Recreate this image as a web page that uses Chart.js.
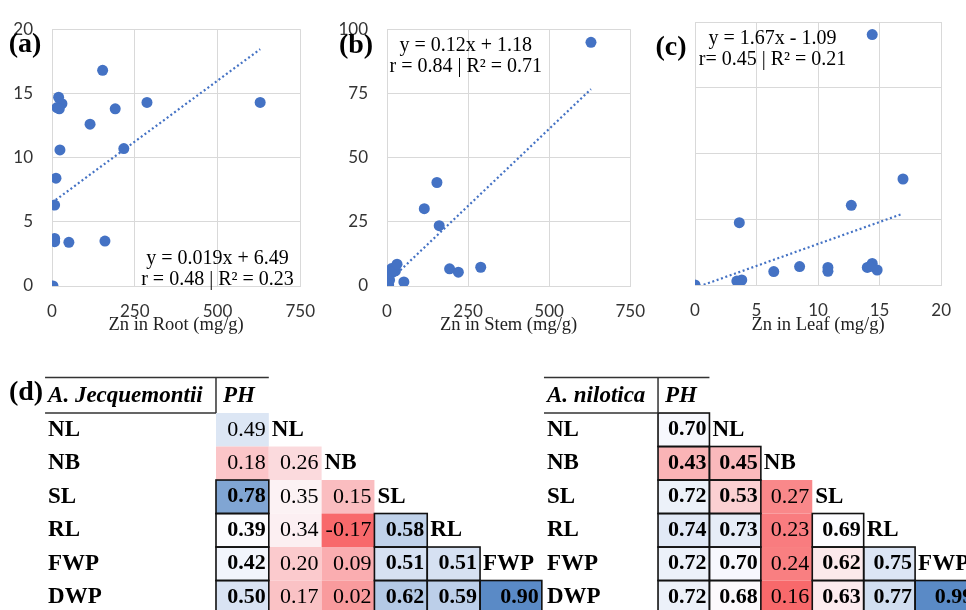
<!DOCTYPE html>
<html>
<head>
<meta charset="utf-8">
<script src="https://cdn.jsdelivr.net/npm/chart.js@4.4.0/dist/chart.umd.min.js"></script>
<style>
  html, body { margin: 0; padding: 0; background: #fff; }
  #page { position: relative; width: 966px; height: 610px; overflow: hidden; background: #fff; }
  canvas { position: absolute; }
</style>
</head>
<body>
<div id="page">
  <canvas id="rootChart" width="330" height="340" style="left:0;top:0"></canvas>
  <canvas id="stemChart" width="330" height="340" style="left:330px;top:0"></canvas>
  <canvas id="leafChart" width="321" height="340" style="left:645px;top:0"></canvas>
  <canvas id="jecqMatrix" width="545" height="240" style="left:0;top:370px"></canvas>
  <canvas id="niloMatrix" width="436" height="240" style="left:530px;top:370px"></canvas>
</div>
<script>
// (a) Zn in root vs Zn in leaf
const rootX = [3, 8, 8, 8, 12, 24, 20, 30, 15, 22, 51, 115, 153, 160, 191, 217, 287, 629];
const rootY = [0, 6.3, 3.7, 3.45, 8.4, 10.6, 14.7, 14.2, 13.9, 13.8, 3.4, 12.6, 16.8, 3.5, 13.8, 10.7, 14.3, 14.3];
// (b) Zn in stem
const stemX = [3, 5, 8, 10, 14, 20, 24, 26, 31, 52, 115, 154, 161, 193, 220, 289, 629];
const stemY = [0, 0.5, 2.3, 4.8, 6.8, 5.6, 6.6, 5.9, 8.5, 1.6, 30.1, 40.3, 23.5, 6.7, 5.4, 7.3, 94.9];
// (c) Zn in leaf
const leafX = [0, 3.4, 3.8, 3.6, 6.4, 8.5, 10.8, 10.8, 12.7, 14.0, 14.4, 14.8, 14.2, 14.4, 16.9];
const leafY = [0, 1.5, 1.9, 23.7, 5.1, 7.0, 6.7, 5.2, 30.3, 6.7, 8.2, 5.7, 7.0, 95.2, 40.3];

const rootTicks = [0, 250, 500, 750];
const stemTicks = [0, 250, 500, 750];
const leafTicks = [0, 5, 10, 15, 20];
const leafYTicks = [0, 5, 10, 15, 20];
const shootYTicks = [0, 25, 50, 75, 100];

// linear fits: slope, intercept, x range
const fitSlope = [0.019, 0.12, 1.67];
const fitIntercept = [6.49, 1.18, -1.09];
const fitRange = [[0, 629], [0, 629], [0, 16.9]];
const eqText = [
  ['y = 0.019x + 6.49', 'r = 0.48 | R\u00b2 = 0.23'],
  ['y = 0.12x + 1.18', 'r = 0.84 | R\u00b2 = 0.71'],
  ['y = 1.67x - 1.09', 'r= 0.45 | R\u00b2 = 0.21']
];

// (d) correlation matrices (lower triangle)
const traits = ['PH', 'NL', 'NB', 'SL', 'RL', 'FWP', 'DWP'];
const jecqR = [
  [0.49],
  [0.18, 0.26],
  [0.78, 0.35, 0.15],
  [0.39, 0.34, -0.17, 0.58],
  [0.42, 0.20, 0.09, 0.51, 0.51],
  [0.50, 0.17, 0.02, 0.62, 0.59, 0.90]
];
const jecqSig = [[0], [0, 0], [1, 0, 0], [1, 0, 0, 1], [1, 0, 0, 1, 1], [1, 0, 0, 1, 1, 1]];
const niloR = [
  [0.70],
  [0.43, 0.45],
  [0.72, 0.53, 0.27],
  [0.74, 0.73, 0.23, 0.69],
  [0.72, 0.70, 0.24, 0.62, 0.75],
  [0.72, 0.68, 0.16, 0.63, 0.77, 0.99]
];
const niloSig = [[1], [1, 1], [1, 1, 0], [1, 1, 0, 1], [1, 1, 0, 1, 1], [1, 1, 0, 1, 1, 1]];

const BLUE = '#4472C4';
const GRID = '#d9d9d9';
const SERIF = "'Liberation Serif', 'Times New Roman', serif";
const SANS = "Lato, 'Open Sans', sans-serif";

// panel tag and fit equation for a scatter panel
function panelText(tag, tagPos, lines, anchor) {
  return {
    id: 'panelText',
    afterDatasetsDraw(chart) {
      const { ctx, scales: { x, y } } = chart;
      ctx.save();
      ctx.fillStyle = '#000';
      ctx.textBaseline = 'middle';
      ctx.textAlign = 'center';
      ctx.font = `bold 28px ${SERIF}`;
      ctx.fillText(tag, tagPos[0], tagPos[1]);
      ctx.font = `20px ${SERIF}`;
      const cx = x.getPixelForValue(anchor[0]);
      const cy = y.getPixelForValue(anchor[1]);
      lines.forEach((t, i) => ctx.fillText(t, cx, cy + i * 21));
      ctx.restore();
    }
  };
}

function scatterPanel(id, o) {
  const pts = o.xs.map((v, i) => ({ x: v, y: o.ys[i] }));
  const [x0, x1] = o.range;
  const fit = [
    { x: x0, y: o.slope * x0 + o.intercept },
    { x: x1, y: o.slope * x1 + o.intercept }
  ];
  return new Chart(document.getElementById(id), {
    type: 'scatter',
    data: {
      datasets: [
        { type: 'line', data: fit, borderColor: BLUE, borderWidth: 2.2, borderDash: [2, 2.6],
          pointRadius: 0, fill: false, tension: 0 },
        { data: pts, backgroundColor: BLUE, borderWidth: 0, pointRadius: 5.5 }
      ]
    },
    options: {
      responsive: false,
      animation: false,
      devicePixelRatio: 1,
      layout: { padding: { left: 0, right: o.padRight, top: o.padTop, bottom: 0 } },
      plugins: { legend: { display: false }, tooltip: { enabled: false } },
      scales: {
        x: {
          type: 'linear',
          min: o.xTicks[0],
          max: o.xTicks[o.xTicks.length - 1],
          afterBuildTicks: s => { s.ticks = o.xTicks.map(v => ({ value: v })); },
          afterFit: s => { s.height = o.xAxisHeight; },
          grid: { color: GRID, drawTicks: false },
          border: { color: GRID },
          ticks: { padding: 15, maxRotation: 0, color: '#333', font: { family: SANS, size: 17 } },
          title: { display: true, text: o.title, color: '#222',
                   font: { family: SERIF, size: 18.5 }, padding: { top: 0, bottom: 4 } }
        },
        y: {
          type: 'linear',
          min: o.yTicks[0],
          max: o.yTicks[o.yTicks.length - 1],
          afterBuildTicks: s => { s.ticks = o.yTicks.map(v => ({ value: v })); },
          afterFit: s => { s.width = o.yAxisWidth; },
          grid: { color: GRID, drawTicks: false },
          border: { color: GRID },
          ticks: { display: o.showY, padding: 19, color: '#333', font: { family: SANS, size: 17 } }
        }
      }
    },
    plugins: [panelText(o.tag, o.tagPos, o.eq, o.eqAt)]
  });
}

scatterPanel('rootChart', {
  xs: rootX, ys: rootY, xTicks: rootTicks, yTicks: leafYTicks, showY: true,
  slope: fitSlope[0], intercept: fitIntercept[0], range: fitRange[0],
  title: 'Zn in Root (mg/g)', eq: eqText[0], eqAt: [500, 2.13],
  tag: '(a)', tagPos: [25, 45],
  padRight: 17, padTop: 23, xAxisHeight: 54, yAxisWidth: 52
});
scatterPanel('stemChart', {
  xs: stemX, ys: stemY, xTicks: stemTicks, yTicks: shootYTicks, showY: true,
  slope: fitSlope[1], intercept: fitIntercept[1], range: fitRange[1],
  title: 'Zn in Stem (mg/g)', eq: eqText[1], eqAt: [243, 93.6],
  tag: '(b)', tagPos: [26, 46],
  padRight: 17, padTop: 23, xAxisHeight: 54, yAxisWidth: 57
});
scatterPanel('leafChart', {
  xs: leafX, ys: leafY, xTicks: leafTicks, yTicks: shootYTicks, showY: false,
  slope: fitSlope[2], intercept: fitIntercept[2], range: fitRange[2],
  title: 'Zn in Leaf (mg/g)', eq: eqText[2], eqAt: [6.3, 93.8],
  tag: '(c)', tagPos: [26, 48],
  padRight: 11, padTop: 22, xAxisHeight: 55, yAxisWidth: 50
});

// three-colour scale: min red, median white, max blue
function colourScale(values) {
  const sorted = values.slice().sort((a, b) => a - b);
  const lo = sorted[0], hi = sorted[sorted.length - 1];
  const mid = sorted[Math.floor(sorted.length / 2)];
  const red = [248, 105, 107], white = [252, 252, 255], blue = [90, 138, 198];
  const mix = (a, b, t) => a.map((c, i) => Math.round(c + (b[i] - c) * t));
  return v => {
    const c = v <= mid ? mix(white, red, (mid - v) / (mid - lo)) : mix(white, blue, (v - mid) / (hi - mid));
    return `rgb(${c[0]},${c[1]},${c[2]})`;
  };
}

function matrixPlugin(o) {
  const colour = colourScale(o.r.flat());
  return {
    id: 'corrMatrix',
    afterDraw(chart) {
      const { ctx, scales: { x, y } } = chart;
      const nCols = traits.length - 1;
      const colRight = c => x.getPixelForValue(c === nCols - 1 ? c + o.lastSpan : c + 1);
      const lx = x.getPixelForValue(o.labelAt);
      ctx.save();
      ctx.textBaseline = 'middle';

      // cell fills
      o.r.forEach((row, r) => row.forEach((v, c) => {
        const l = x.getPixelForValue(c), t = y.getPixelForValue(r);
        ctx.fillStyle = colour(v);
        ctx.fillRect(l, t, colRight(c) - l, y.getPixelForValue(r + 1) - t);
      }));
      // significant cell frames
      ctx.strokeStyle = '#111';
      ctx.lineWidth = 1.6;
      o.r.forEach((row, r) => row.forEach((v, c) => {
        if (!o.sig[r][c]) return;
        const l = x.getPixelForValue(c), t = y.getPixelForValue(r);
        ctx.strokeRect(l, t, colRight(c) - l, y.getPixelForValue(r + 1) - t);
      }));
      // values
      ctx.fillStyle = '#000';
      ctx.textAlign = 'right';
      o.r.forEach((row, r) => row.forEach((v, c) => {
        ctx.font = `${o.sig[r][c] ? 'bold ' : ''}22px ${SERIF}`;
        ctx.fillText(v.toFixed(2), colRight(c) - 3, y.getPixelForValue(r + 0.5));
      }));
      // row names and diagonal column names
      ctx.textAlign = 'left';
      ctx.font = `bold 23px ${SERIF}`;
      traits.slice(1).forEach((name, r) => {
        ctx.fillText(name, lx, y.getPixelForValue(r + 0.5));
      });
      traits.slice(1, nCols).forEach((name, i) => {
        ctx.fillText(name, x.getPixelForValue(i + 1) + 3, y.getPixelForValue(i + 0.5));
      });
      // header
      const hy = y.getPixelForValue(-0.52);
      ctx.font = `italic bold 23px ${SERIF}`;
      ctx.fillText(o.species, lx, hy);
      ctx.fillText(traits[0], x.getPixelForValue(0) + 7, hy);
      ctx.strokeStyle = '#333';
      ctx.lineWidth = 1.5;
      const top = y.getPixelForValue(-1.06), base = y.getPixelForValue(0);
      ctx.beginPath();
      ctx.moveTo(lx - 3, top); ctx.lineTo(x.getPixelForValue(1), top);
      ctx.moveTo(lx - 3, base); ctx.lineTo(x.getPixelForValue(0), base);
      ctx.moveTo(x.getPixelForValue(0), top); ctx.lineTo(x.getPixelForValue(0), base);
      ctx.stroke();
      if (o.tag) {
        ctx.font = `bold 28px ${SERIF}`;
        ctx.textAlign = 'center';
        ctx.fillText(o.tag, 26, 23);
      }
      ctx.restore();
    }
  };
}

function matrixChart(id, o) {
  return new Chart(document.getElementById(id), {
    type: 'scatter',
    data: { datasets: [] },
    options: {
      responsive: false,
      animation: false,
      devicePixelRatio: 1,
      layout: { padding: 0 },
      plugins: { legend: { display: false }, tooltip: { enabled: false } },
      scales: {
        x: { type: 'linear', display: false, min: o.xMin, max: o.xMax },
        y: { type: 'linear', display: false, min: -1.284, max: 5.88, reverse: true }
      }
    },
    plugins: [matrixPlugin(o)]
  });
}

matrixChart('jecqMatrix', {
  r: jecqR, sig: jecqSig, species: 'A. Jecquemontii', tag: '(d)',
  xMin: -4.09, xMax: 6.23, labelAt: -3.18, lastSpan: 1.17
});
matrixChart('niloMatrix', {
  r: niloR, sig: niloSig, species: 'A. nilotica', tag: null,
  xMin: -2.49, xMax: 5.99, labelAt: -2.16, lastSpan: 1.19
});
</script>
</body>
</html>
